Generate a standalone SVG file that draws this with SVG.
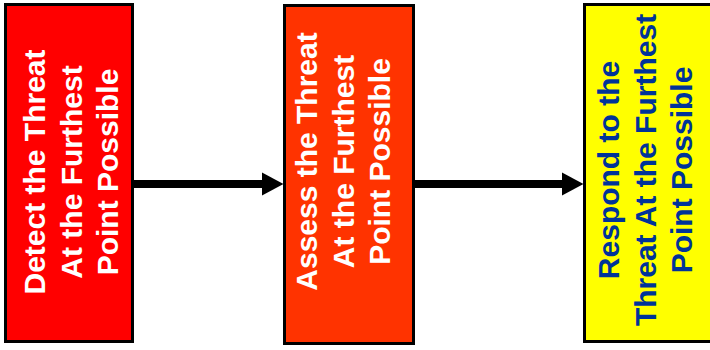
<svg xmlns="http://www.w3.org/2000/svg" width="710" height="350" viewBox="0 0 710 350">
  <style>
    .box { stroke: #000000; stroke-width: 3; }
    .lbl { font-family: "Liberation Sans", Arial, sans-serif; font-weight: bold; font-size: 30px; text-anchor: middle; }
    .white { fill: #FFFFFF; }
    .blue { fill: #003399; }
    .conn { stroke: #000000; stroke-width: 8; fill: none; }
    .head { fill: #000000; }
  </style>
  <rect x="0" y="0" width="710" height="350" fill="#FFFFFF"/>
  <g id="connectors">
    <line class="conn" x1="134" y1="184" x2="264" y2="184"/>
    <polygon class="head" points="262,172.5 283.5,184 262,195.5"/>
    <line class="conn" x1="415" y1="184" x2="564" y2="184"/>
    <polygon class="head" points="562,172.5 583.5,184 562,195.5"/>
  </g>
  <g id="detect">
    <rect class="box" x="5.5" y="4.5" width="127" height="337" fill="#FF0000"/>
    <g transform="translate(45,172) rotate(-90)">
      <text class="lbl white" x="0" y="0">Detect the Threat</text>
      <text class="lbl white" x="0" y="36.5">At the Furthest</text>
      <text class="lbl white" x="0" y="73">Point Possible</text>
    </g>
  </g>
  <g id="assess">
    <rect class="box" x="284.5" y="5.5" width="129" height="338" fill="#FF3300"/>
    <g transform="translate(317,161.5) rotate(-90)">
      <text class="lbl white" x="0" y="0">Assess the Threat</text>
      <text class="lbl white" x="0" y="36.5">At the Furthest</text>
      <text class="lbl white" x="0" y="73">Point Possible</text>
    </g>
  </g>
  <g id="respond">
    <rect class="box" x="584.5" y="4.5" width="130" height="337" fill="#FFFF00"/>
    <g transform="translate(619,170) rotate(-90)">
      <text class="lbl blue" x="0" y="0">Respond to the</text>
      <text class="lbl blue" x="0" y="36.5">Threat At the Furthest</text>
      <text class="lbl blue" x="0" y="73">Point Possible</text>
    </g>
  </g>
</svg>
